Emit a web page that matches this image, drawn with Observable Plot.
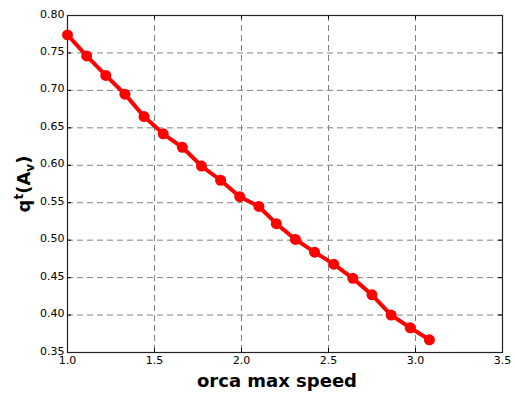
<!DOCTYPE html>
<html>
<head>
<meta charset="utf-8">
<script src="https://cdn.jsdelivr.net/npm/d3@7"></script>
<script src="https://cdn.jsdelivr.net/npm/@observablehq/plot@0.6"></script>
<style>
  html, body { margin: 0; padding: 0; background: #fff; }
  #chart svg { display: block; }
</style>
</head>
<body>
<div id="chart"></div>
<script>
const speeds = [1.00, 1.11, 1.22, 1.33, 1.44, 1.55, 1.66, 1.77, 1.88, 1.99,
                2.10, 2.20, 2.31, 2.42, 2.53, 2.64, 2.75, 2.86, 2.97, 3.08];
const qValues = [0.774, 0.746, 0.720, 0.695, 0.665, 0.642, 0.624, 0.599, 0.580, 0.558,
                 0.545, 0.522, 0.501, 0.484, 0.468, 0.449, 0.427, 0.400, 0.383, 0.367];
const xTicks = [1.0, 1.5, 2.0, 2.5, 3.0, 3.5];
const yTicks = [0.35, 0.40, 0.45, 0.50, 0.55, 0.60, 0.65, 0.70, 0.75, 0.80];

const data = speeds.map((s, i) => ({speed: s, q: qValues[i]}));

const W = 515, H = 394;
const mL = 67, mR = 13, mT = 15, mB = 42;
const fw = W - mL - mR, fh = H - mT - mB;
const tick = 4;

const svg = Plot.plot({
  width: W,
  height: H,
  marginLeft: mL,
  marginRight: mR,
  marginTop: mT,
  marginBottom: mB,
  style: {fontFamily: "DejaVu Sans", fontSize: "11px", color: "#000", background: "#fff"},
  x: {domain: [1.0, 3.5], ticks: xTicks, tickFormat: d3.format(".1f"), label: null},
  y: {domain: [0.35, 0.80], ticks: yTicks, tickFormat: d3.format(".2f"), label: null},
  marks: [
    Plot.gridX(xTicks.slice(1, -1), {stroke: "#808080", strokeOpacity: 1, strokeWidth: 1, strokeDasharray: "6,4"}),
    Plot.gridY(yTicks.slice(1, -1), {stroke: "#808080", strokeOpacity: 1, strokeWidth: 1, strokeDasharray: "6,4"}),
    // inward ticks on all four sides
    Plot.gridX(xTicks, {insetTop: fh - tick, stroke: "#000", strokeOpacity: 1}),
    Plot.gridX(xTicks, {insetBottom: fh - tick, stroke: "#000", strokeOpacity: 1}),
    Plot.gridY(yTicks, {insetRight: fw - tick, stroke: "#000", strokeOpacity: 1}),
    Plot.gridY(yTicks, {insetLeft: fw - tick, stroke: "#000", strokeOpacity: 1}),
    Plot.axisX({ticks: xTicks, tickSize: 0, tickPadding: 4, tickFormat: d3.format(".1f"), label: null, fill: "#000"}),
    Plot.axisY({ticks: yTicks, tickSize: 0, tickPadding: 3, dy: -1.5, tickFormat: d3.format(".2f"), label: null, fill: "#000"}),
    Plot.frame({stroke: "#222", strokeWidth: 1.2}),
    Plot.line(data, {x: "speed", y: "q", stroke: "#ff0000", strokeWidth: 4}),
    Plot.dot(data, {x: "speed", y: "q", r: 5.5, fill: "#ff0000", stroke: "none"})
  ]
});

const s = d3.select(svg);
s.append("text")
  .attr("x", 277)
  .attr("y", 387)
  .attr("text-anchor", "middle")
  .style("font-family", "DejaVu Sans")
  .style("font-weight", "bold")
  .style("font-size", "18px")
  .attr("fill", "#000")
  .text("orca max speed");

const yl = s.append("text")
  .attr("transform", "translate(30,184) rotate(-90)")
  .attr("text-anchor", "middle")
  .style("font-family", "DejaVu Sans")
  .style("font-weight", "bold")
  .style("font-size", "18px")
  .attr("fill", "#000");
yl.append("tspan").text("q");
yl.append("tspan").attr("dy", -7).style("font-size", "12px").text("t");
yl.append("tspan").attr("dy", 7).text("(A");
yl.append("tspan").attr("dy", 4).style("font-size", "12px").text("v");
yl.append("tspan").attr("dy", -4).text(")");

document.getElementById("chart").appendChild(svg);
</script>
</body>
</html>
